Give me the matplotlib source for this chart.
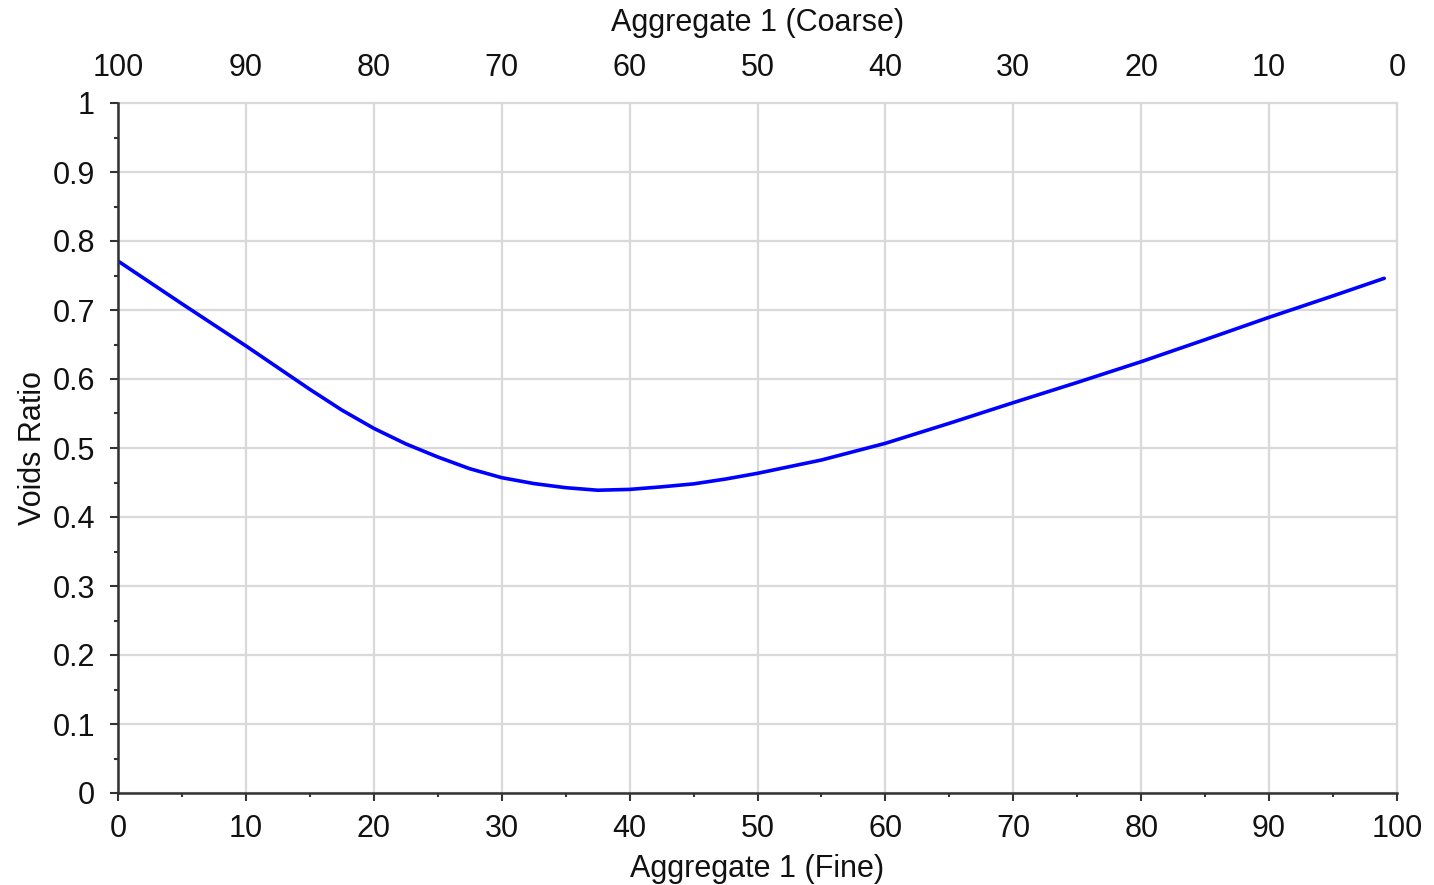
import matplotlib
matplotlib.use("Agg")
import matplotlib.pyplot as plt
from matplotlib.ticker import MultipleLocator

plt.rcParams['font.family'] = ['Liberation Sans', 'DejaVu Sans']

fine_pct = [0, 5, 10, 15, 17.5, 20, 22.5, 25, 27.5, 30, 32.5, 35, 37.5, 40, 42.5, 45, 47.5,
            50, 55, 60, 65, 70, 75, 80, 85, 90, 95, 99]
voids_ratio = [0.771, 0.709, 0.648, 0.585, 0.555, 0.5285, 0.506, 0.487, 0.470, 0.457, 0.4485,
               0.4425, 0.4388, 0.4400, 0.4437, 0.448, 0.455, 0.4633, 0.4826, 0.5068, 0.5358,
               0.5657, 0.595, 0.6251, 0.657, 0.6894, 0.7205, 0.7459]
x_label = "Aggregate 1 (Fine)"
top_label = "Aggregate 1 (Coarse)"
y_label = "Voids Ratio"

fig = plt.figure(figsize=(14.34, 8.85), dpi=100)
ax = fig.add_axes([118/1434, 1-793/885, (1397-118)/1434, (793-103)/885])

grid_c = '#d9d9d9'
ax.plot(fine_pct, voids_ratio, color='#0000ff', lw=2.6, zorder=3,
        solid_capstyle='round', solid_joinstyle='round')
ax.set_xlim(0, 100)
ax.set_ylim(0, 1)
ax.xaxis.set_major_locator(MultipleLocator(10))
ax.xaxis.set_minor_locator(MultipleLocator(5))
ax.yaxis.set_major_locator(MultipleLocator(0.1))
ax.yaxis.set_minor_locator(MultipleLocator(0.05))
ax.yaxis.set_major_formatter(plt.FuncFormatter(lambda v, p: ('%g' % round(v, 2))))
ax.grid(True, which='major', color=grid_c, lw=1.6, zorder=0)
for gl in ax.get_xgridlines() + ax.get_ygridlines():
    gl.set_clip_on(False)
ax.set_axisbelow(True)

for s in ['top', 'right']:
    ax.spines[s].set_visible(False)
for s in ['left', 'bottom']:
    ax.spines[s].set_color('#333333')
    ax.spines[s].set_linewidth(1.8)
    ax.spines[s].set_zorder(4)

fs = 22
ax.tick_params(axis='both', which='major', length=5.5, width=1.5, color='#333333',
               labelsize=fs, labelcolor='#111111')
ax.tick_params(axis='both', which='minor', length=3, width=1.5, color='#333333')
ax.tick_params(axis='x', which='major', pad=9.5)
ax.tick_params(axis='y', which='major', pad=11)

ax.set_xlabel(x_label, fontsize=fs, color='#111111', labelpad=7)
ax.set_ylabel(y_label, fontsize=fs, color='#111111', labelpad=3)

ax2 = ax.twiny()
ax2.set_xlim(100, 0)
ax2.xaxis.set_major_locator(MultipleLocator(10))
for s in ax2.spines.values():
    s.set_visible(False)
ax2.tick_params(axis='x', which='both', length=0, labelsize=fs, labelcolor='#111111', pad=14.5)
ax2.set_xlabel(top_label, fontsize=fs, color='#111111', labelpad=16)

fig.savefig("out.png", dpi=100, facecolor='white')
